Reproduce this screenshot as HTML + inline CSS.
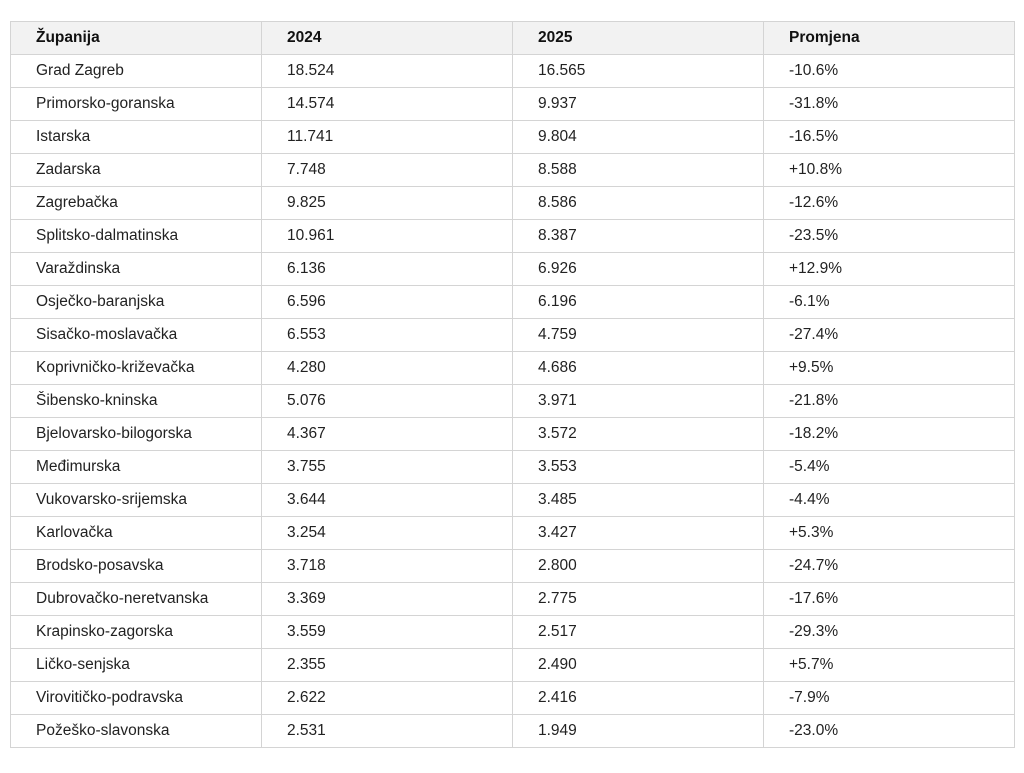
<!DOCTYPE html>
<html><head><meta charset="utf-8"><style>
html,body{margin:0;padding:0;background:#fff;width:1024px;height:773px;overflow:hidden}
table{position:absolute;left:10px;top:21px;border-collapse:collapse;width:1004px;table-layout:fixed;font-family:"Liberation Sans",sans-serif;font-size:15.5px;color:#222}
td,th{border:1px solid #d4d4d4;height:32px;padding:0 0 0 25px;text-align:left;box-sizing:border-box}
th{background:#f2f2f2;font-weight:bold;color:#111;height:33px}
tr{height:33px}
</style></head><body>
<table>
<colgroup><col style="width:251px"><col style="width:251px"><col style="width:251px"><col style="width:251px"></colgroup>
<tr><th>Županija</th><th>2024</th><th>2025</th><th>Promjena</th></tr>
<tr><td>Grad Zagreb</td><td>18.524</td><td>16.565</td><td>-10.6%</td></tr>
<tr><td>Primorsko-goranska</td><td>14.574</td><td>9.937</td><td>-31.8%</td></tr>
<tr><td>Istarska</td><td>11.741</td><td>9.804</td><td>-16.5%</td></tr>
<tr><td>Zadarska</td><td>7.748</td><td>8.588</td><td>+10.8%</td></tr>
<tr><td>Zagrebačka</td><td>9.825</td><td>8.586</td><td>-12.6%</td></tr>
<tr><td>Splitsko-dalmatinska</td><td>10.961</td><td>8.387</td><td>-23.5%</td></tr>
<tr><td>Varaždinska</td><td>6.136</td><td>6.926</td><td>+12.9%</td></tr>
<tr><td>Osječko-baranjska</td><td>6.596</td><td>6.196</td><td>-6.1%</td></tr>
<tr><td>Sisačko-moslavačka</td><td>6.553</td><td>4.759</td><td>-27.4%</td></tr>
<tr><td>Koprivničko-križevačka</td><td>4.280</td><td>4.686</td><td>+9.5%</td></tr>
<tr><td>Šibensko-kninska</td><td>5.076</td><td>3.971</td><td>-21.8%</td></tr>
<tr><td>Bjelovarsko-bilogorska</td><td>4.367</td><td>3.572</td><td>-18.2%</td></tr>
<tr><td>Međimurska</td><td>3.755</td><td>3.553</td><td>-5.4%</td></tr>
<tr><td>Vukovarsko-srijemska</td><td>3.644</td><td>3.485</td><td>-4.4%</td></tr>
<tr><td>Karlovačka</td><td>3.254</td><td>3.427</td><td>+5.3%</td></tr>
<tr><td>Brodsko-posavska</td><td>3.718</td><td>2.800</td><td>-24.7%</td></tr>
<tr><td>Dubrovačko-neretvanska</td><td>3.369</td><td>2.775</td><td>-17.6%</td></tr>
<tr><td>Krapinsko-zagorska</td><td>3.559</td><td>2.517</td><td>-29.3%</td></tr>
<tr><td>Ličko-senjska</td><td>2.355</td><td>2.490</td><td>+5.7%</td></tr>
<tr><td>Virovitičko-podravska</td><td>2.622</td><td>2.416</td><td>-7.9%</td></tr>
<tr><td>Požeško-slavonska</td><td>2.531</td><td>1.949</td><td>-23.0%</td></tr>
</table>
</body></html>
